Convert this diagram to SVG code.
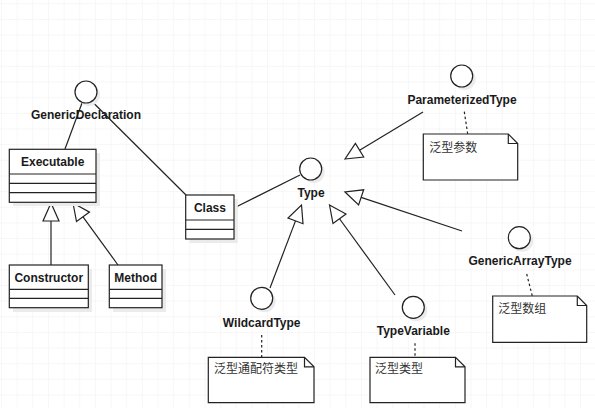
<svg xmlns="http://www.w3.org/2000/svg" width="595" height="408" viewBox="0 0 595 408">
<defs>
<pattern id="grid" x="1" y="3.3" width="15.65" height="15.65" patternUnits="userSpaceOnUse">
<path d="M0 0H15.65M0 0V15.65" fill="none" stroke="#efefef" stroke-width="1"/>
</pattern>
</defs>
<style>
.ln{fill:none;stroke:#222;stroke-width:1.2}
.dash{fill:none;stroke:#222;stroke-width:1.2;stroke-dasharray:2.5 2.5}
.tri{fill:#fff;stroke:#222;stroke-width:1.2;stroke-linejoin:miter}
.box{fill:#fff;stroke:#222;stroke-width:1.2}
.sh{fill:#ebebeb;stroke:none}
.cir{fill:#fff;stroke:#222;stroke-width:1.2}
.lbl{font-family:"Liberation Sans",Arial,sans-serif;font-weight:bold;font-size:12px;fill:#1a1a1a;text-anchor:middle}
.note{font-family:"Liberation Sans","Noto Sans CJK SC",sans-serif;font-size:12px;fill:#333}
</style>
<rect width="595" height="408" fill="#fff"/>
<rect width="595" height="408" fill="url(#grid)"/>

<g id="connectors">
<line class="ln" x1="82" y1="103" x2="65" y2="149"/>
<line class="ln" x1="93.3" y1="102.7" x2="186" y2="195"/>
<line class="ln" x1="234" y1="208" x2="300" y2="175"/>
<line class="ln" x1="51" y1="265" x2="51" y2="221"/>
<polygon class="tri" points="51,203 43,221 59,221"/>
<line class="ln" x1="118" y1="265" x2="83" y2="216.8"/>
<polygon class="tri" points="73,203 89.5,212.1 76.5,221.5"/>
<line class="ln" x1="270" y1="288" x2="295.5" y2="220.9"/>
<polygon class="tri" points="301.5,205 303,223.7 288,218.1"/>
<line class="ln" x1="395" y1="295" x2="339.5" y2="218.75"/>
<polygon class="tri" points="329.5,205 346,214 333,223.5"/>
<line class="ln" x1="462" y1="231" x2="361.1" y2="197.4"/>
<polygon class="tri" points="345,192 358.6,205 363.7,189.8"/>
<line class="ln" x1="423" y1="112" x2="359.6" y2="150.2"/>
<polygon class="tri" points="345,159 363.7,157 355.4,143.4"/>
<line class="dash" x1="464.3" y1="111.7" x2="467.7" y2="134"/>
<line class="dash" x1="526.7" y1="274" x2="532.3" y2="296"/>
<line class="dash" x1="261.7" y1="335" x2="261.7" y2="357.3"/>
<line class="dash" x1="415" y1="343.3" x2="415" y2="357.3"/>
</g>

<g id="GenericDeclaration">
<circle class="sh" cx="89" cy="95" r="11"/>
<circle class="cir" cx="86" cy="92" r="11"/>
<text class="lbl" x="86" y="118.6">GenericDeclaration</text>
</g>

<g id="Executable">
<rect class="sh" x="13" y="153" width="87" height="53"/>
<rect class="box" x="9.3" y="149.3" width="86.7" height="53"/>
<path class="ln" d="M9.3 174H96M9.3 183.3H96M9.3 192.7H96"/>
<text class="lbl" x="52.7" y="165.5">Executable</text>
</g>

<g id="Constructor">
<rect class="sh" x="13" y="269" width="79" height="43"/>
<rect class="box" x="9.3" y="265" width="79" height="42.7"/>
<path class="ln" d="M9.3 289.3H88.3M9.3 298.3H88.3"/>
<text class="lbl" x="48.8" y="281.5">Constructor</text>
</g>

<g id="Method">
<rect class="sh" x="113" y="269" width="53" height="43"/>
<rect class="box" x="109.3" y="265" width="52.7" height="42.7"/>
<path class="ln" d="M109.3 289.3H162M109.3 298.3H162"/>
<text class="lbl" x="135.7" y="281.5">Method</text>
</g>

<g id="Class">
<rect class="sh" x="189.5" y="199" width="48.3" height="44"/>
<rect class="box" x="185.7" y="195" width="48.3" height="44"/>
<path class="ln" d="M185.7 220H234M185.7 229.3H234"/>
<text class="lbl" x="209.9" y="212">Class</text>
</g>

<g id="Type">
<circle class="sh" cx="313.7" cy="172" r="11"/>
<circle class="cir" cx="310.7" cy="169" r="11"/>
<text class="lbl" x="311" y="196.6">Type</text>
</g>

<g id="ParameterizedType">
<circle class="sh" cx="464.7" cy="79" r="11"/>
<circle class="cir" cx="461.7" cy="76" r="11"/>
<text class="lbl" x="462" y="103.6">ParameterizedType</text>
</g>

<g id="note-ParameterizedType">
<path class="box" d="M423.3 134H508.3L517.7 143.5V180H423.3Z"/>
<path class="ln" d="M508.3 134V143.5H517.7"/>
<text class="note" x="429.3" y="151.7">泛型参数</text>
</g>

<g id="GenericArrayType">
<circle class="sh" cx="522.3" cy="240.7" r="11"/>
<circle class="cir" cx="519.3" cy="237.7" r="11"/>
<text class="lbl" x="520" y="265.3">GenericArrayType</text>
</g>

<g id="note-GenericArrayType">
<path class="box" d="M492.7 296H577.3L586.7 305.5V342.3H492.7Z"/>
<path class="ln" d="M577.3 296V305.5H586.7"/>
<text class="note" x="498.3" y="312.7">泛型数组</text>
</g>

<g id="WildcardType">
<circle class="sh" cx="264.7" cy="301.3" r="11"/>
<circle class="cir" cx="261.7" cy="298.3" r="11"/>
<text class="lbl" x="261.7" y="326.9">WildcardType</text>
</g>

<g id="note-WildcardType">
<path class="box" d="M208.3 357.3H304.5L314 366.8V402.7H208.3Z"/>
<path class="ln" d="M304.5 357.3V366.8H314"/>
<text class="note" x="214" y="373">泛型通配符类型</text>
</g>

<g id="TypeVariable">
<circle class="sh" cx="416.3" cy="310.3" r="11"/>
<circle class="cir" cx="413.3" cy="307.3" r="11"/>
<text class="lbl" x="413.3" y="335.3">TypeVariable</text>
</g>

<g id="note-TypeVariable">
<path class="box" d="M370 357.3H455.5L465 366.8V402.7H370Z"/>
<path class="ln" d="M455.5 357.3V366.8H465"/>
<text class="note" x="375" y="373">泛型类型</text>
</g>
</svg>
